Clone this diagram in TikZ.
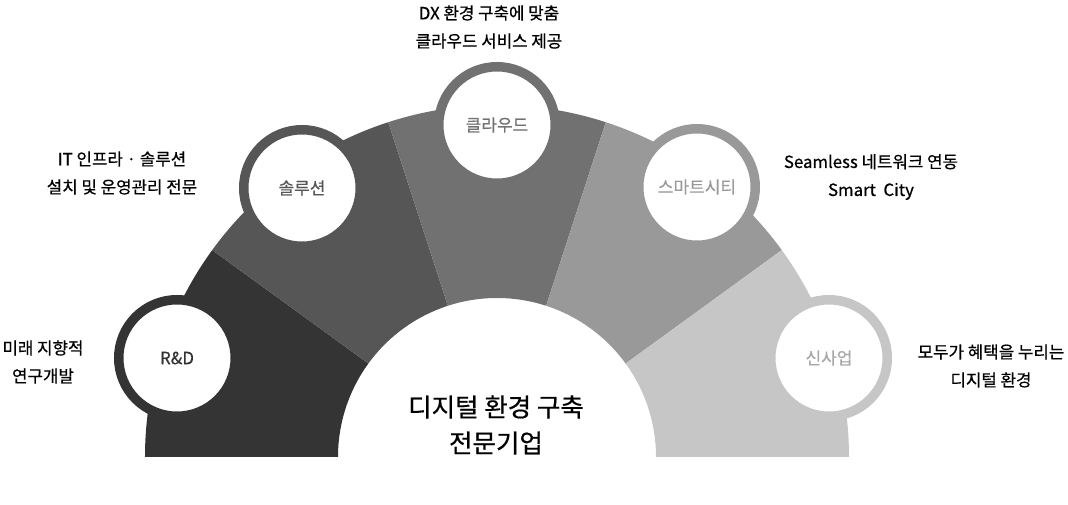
\documentclass[tikz,border=0pt]{standalone}
\usepackage{fontspec}
\setmainfont{Noto Sans CJK KR}
\newfontfamily\medfont{Noto Sans CJK KR}[FakeBold=0.6]
\newfontfamily\badgefont{Noto Sans CJK KR}[FakeBold=0.3]
\usepackage{tikz}
\definecolor{rdgray}{HTML}{343434}
\definecolor{solgray}{HTML}{565656}
\definecolor{cloudgray}{HTML}{717171}
\definecolor{citygray}{HTML}{999999}
\definecolor{newgray}{HTML}{C6C6C6}

\begin{document}
\begin{tikzpicture}[x=1pt, y=1pt,
    badge/.style={circle, draw, fill=white, line width=9.5pt, minimum size=116.5pt,
      inner sep=0pt, font=\badgefont\fontsize{17}{20}\selectfont},
    memo/.style={align=center, text=black, font=\medfont\fontsize{16.8}{28}\selectfont}]
  \useasboundingbox (-497,-48) rectangle (571,457);
  % fan segments, 36 degrees each
  \fill[rdgray]    (180:352) arc[start angle=180, end angle=144, radius=352] -- (144:159) arc[start angle=144, end angle=180, radius=159] -- cycle;
  \fill[solgray]   (144:352) arc[start angle=144, end angle=108, radius=352] -- (108:159) arc[start angle=108, end angle=144, radius=159] -- cycle;
  \fill[cloudgray] (108:352) arc[start angle=108, end angle=72, radius=352] -- (72:159) arc[start angle=72, end angle=108, radius=159] -- cycle;
  \fill[citygray]  (72:352) arc[start angle=72, end angle=36, radius=352] -- (36:159) arc[start angle=36, end angle=72, radius=159] -- cycle;
  \fill[newgray]   (36:352) arc[start angle=36, end angle=0, radius=352] -- (0:159) arc[start angle=0, end angle=36, radius=159] -- cycle;
  % badges on the rim
  \node[badge, draw=rdgray, text=rdgray]       (rd)    at (-320,99)  {R\&D};
  \node[badge, draw=solgray, text=solgray]     (sol)   at (-195,269) {솔루션};
  \node[badge, draw=cloudgray, text=cloudgray] (cloud) at (0,332)    {클라우드};
  \node[badge, draw=citygray, text=citygray]   (city)  at (200,270)  {스마트시티};
  \node[badge, draw=newgray, text=newgray!85!black] (new) at (332,99) {신사업};
  % notes
  \node[memo] (rdnote)    at (-454,95)  {미래 지향적\\연구개발};
  \node[memo] (solnote)   at (-375,284) {IT 인프라 · 솔루션\\설치 및 운영관리 전문};
  \node[memo] (cloudnote) at (-8,430)   {DX 환경 구축에 맞춤\\클라우드 서비스 제공};
  \node[memo] (citynote)  at (374,280)  {Seamless 네트워크 연동\\Smart~~City};
  \node[memo] (newnote)   at (494,91)   {모두가 혜택을 누리는\\디지털 환경};
  \node[align=center, text=black, font=\medfont\fontsize{25.5}{36}\selectfont] (core) at (-1,32) {디지털 환경 구축\\전문기업};
\end{tikzpicture}
\end{document}
